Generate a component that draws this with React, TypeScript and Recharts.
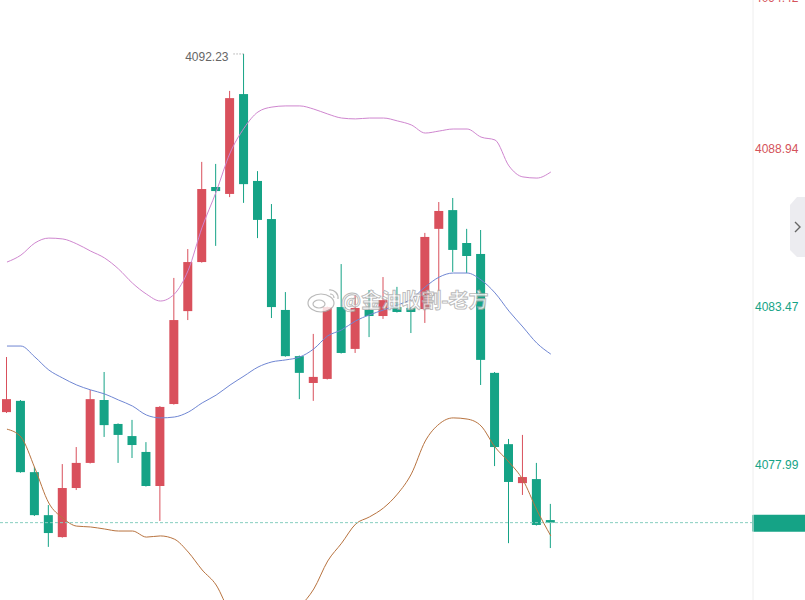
import React from 'react';
import { ComposedChart, Bar, Line, XAxis, YAxis, ReferenceLine } from 'recharts';

// OHLC per candle
const opens = [4079.82, 4080.21, 4077.74, 4076.25, 4075.49, 4077.19, 4078.06, 4080.24, 4079.41, 4078.99, 4078.44, 4077.26, 4080.10, 4083.32, 4085.02, 4087.62, 4087.38, 4090.84, 4087.83, 4086.51, 4083.36, 4081.76, 4080.83, 4080.97, 4083.46, 4082.01, 4083.36, 4083.15, 4083.46, 4083.43, 4083.39, 4086.17, 4086.82, 4085.68, 4085.30, 4081.18, 4078.71, 4077.36, 4077.50, 4076.08];
const highs = [4081.73, 4080.24, 4077.92, 4076.60, 4078.02, 4078.61, 4080.59, 4081.21, 4079.43, 4079.55, 4078.78, 4080.03, 4084.47, 4085.47, 4088.49, 4088.42, 4090.95, 4092.23, 4088.17, 4087.03, 4083.98, 4081.78, 4082.53, 4083.48, 4084.95, 4083.88, 4084.05, 4084.50, 4084.16, 4083.45, 4086.03, 4087.10, 4087.24, 4086.17, 4086.13, 4081.21, 4078.89, 4079.03, 4078.06, 4076.64];
const lows = [4079.79, 4077.72, 4076.22, 4075.15, 4075.47, 4077.12, 4078.04, 4078.96, 4078.06, 4078.23, 4077.24, 4076.05, 4080.08, 4083.01, 4085.00, 4085.58, 4087.27, 4087.07, 4085.85, 4083.08, 4081.74, 4080.27, 4080.21, 4080.95, 4081.85, 4081.87, 4082.42, 4083.05, 4083.27, 4082.56, 4082.91, 4084.02, 4084.68, 4084.64, 4080.76, 4077.95, 4075.28, 4076.95, 4075.89, 4075.11];
const closes = [4080.27, 4077.74, 4076.25, 4075.63, 4077.19, 4078.06, 4080.27, 4079.37, 4079.03, 4078.68, 4077.26, 4080.00, 4083.01, 4085.02, 4087.55, 4087.48, 4090.70, 4087.72, 4086.48, 4083.46, 4081.76, 4081.18, 4081.04, 4083.46, 4081.87, 4083.43, 4083.15, 4083.70, 4083.29, 4083.29, 4085.89, 4086.79, 4085.44, 4085.23, 4081.63, 4078.61, 4077.40, 4077.57, 4075.91, 4075.99];

// Bollinger bands
const upperBand = [4085.02, 4085.26, 4085.68, 4085.85, 4085.82, 4085.65, 4085.40, 4085.16, 4084.78, 4084.29, 4083.91, 4083.67, 4083.91, 4084.74, 4086.23, 4087.45, 4088.80, 4089.66, 4090.22, 4090.39, 4090.43, 4090.43, 4090.32, 4090.15, 4090.01, 4089.98, 4090.01, 4090.01, 4089.91, 4089.77, 4089.49, 4089.56, 4089.63, 4089.63, 4089.35, 4089.25, 4088.35, 4087.97, 4087.93, 4088.14];
const midBand = [4082.11, 4082.11, 4081.73, 4081.28, 4081.00, 4080.76, 4080.59, 4080.45, 4080.24, 4080.03, 4079.72, 4079.62, 4079.65, 4079.82, 4080.14, 4080.41, 4080.76, 4081.07, 4081.38, 4081.56, 4081.63, 4081.73, 4082.01, 4082.46, 4082.67, 4082.98, 4083.19, 4083.36, 4083.53, 4083.74, 4084.16, 4084.50, 4084.64, 4084.64, 4084.40, 4083.95, 4083.32, 4082.77, 4082.21, 4081.83];
const lowerBand = [4079.23, 4078.96, 4077.88, 4076.67, 4076.15, 4075.87, 4075.84, 4075.77, 4075.70, 4075.70, 4075.49, 4075.53, 4075.42, 4074.97, 4074.35, 4073.83, 4072.89, 4072.48, 4072.55, 4072.72, 4072.82, 4073.10, 4073.69, 4074.66, 4075.28, 4075.94, 4076.19, 4076.50, 4076.98, 4077.68, 4078.82, 4079.41, 4079.62, 4079.58, 4079.34, 4078.61, 4078.09, 4077.47, 4076.43, 4075.53];

const priceTicks = [4094.42, 4088.94, 4083.47, 4077.99];
const lastPrice = 4075.99;
const refPrice = 4086.2;
const SLOTS = 54; // candles + empty space on the right

const UP = '#d9505c';
const DOWN = '#15a386';
const FONT = '"Liberation Sans", Arial, sans-serif';

const data = Array.from({ length: SLOTS }, (_, i) =>
  i < opens.length
    ? {
        i,
        open: opens[i],
        high: highs[i],
        low: lows[i],
        close: closes[i],
        upper: upperBand[i],
        mid: midBand[i],
        lower: lowerBand[i],
      }
    : { i }
);

const maxHigh = Math.max(...highs);

const Candle = (props: any) => {
  const { x, y, width, height, payload } = props;
  if (!payload || payload.open == null) return null;
  const { open, high, low, close } = payload;
  const top = Math.min(y, y + height);
  const h = Math.abs(height);
  const k = h / (high - low);
  const py = (v: number) => top + (high - v) * k;
  const color = close >= open ? UP : DOWN;
  const bodyTop = py(Math.max(open, close));
  const bodyH = Math.max(1, Math.abs(py(open) - py(close)));
  const cx = x + width / 2;
  return (
    <g>
      <line x1={cx} x2={cx} y1={top} y2={top + h} stroke={color} strokeWidth={1} />
      <rect x={x} y={bodyTop} width={width} height={bodyH} fill={color} />
      {high === maxHigh && (
        <g>
          <line x1={cx - 10} x2={cx} y1={top} y2={top} stroke="#888" strokeDasharray="1 2" />
          <text x={cx - 15} y={top + 7} textAnchor="end" fontSize={12} fill="#666" fontFamily={FONT}>
            {high.toFixed(2)}
          </text>
        </g>
      )}
    </g>
  );
};

const PriceTick = (props: any) => {
  const { x, y, payload } = props;
  const ty = Math.max(y, -2);
  const color = payload.value > refPrice ? '#d4525a' : DOWN;
  return (
    <text x={x} y={ty} dy={4} textAnchor="start" fontSize={12} fill={color} fontFamily={FONT}>
      {Number(payload.value).toFixed(2)}
    </text>
  );
};

const PriceTag = (props: any) => {
  const vb = props.viewBox || {};
  return (
    <rect x={vb.x + vb.width - 1} y={vb.y - 8} width={54} height={17} fill={DOWN} rx={1} />
  );
};

export default function App() {
  return (
    <div style={{ position: 'absolute', left: 0, top: 0, width: 805, height: 600, background: '#fff' }}>
      <ComposedChart width={805} height={600} data={data} margin={{ top: 0, right: 0, bottom: 0, left: 0 }}>
        <XAxis dataKey="i" type="category" hide />
        <YAxis
          orientation="right"
          width={52}
          domain={[4073.31, 4094.1]}
          allowDataOverflow
          ticks={priceTicks}
          interval={0}
          tickLine={false}
          tickSize={0}
          tickMargin={2}
          axisLine={{ stroke: '#eeeeee' }}
          tick={<PriceTick />}
        />
        <Line type="monotone" dataKey="upper" stroke="#cf86cf" strokeWidth={1} dot={false} activeDot={false} legendType="none" isAnimationActive={false} />
        <Line type="monotone" dataKey="mid" stroke="#6f86d3" strokeWidth={1} dot={false} activeDot={false} legendType="none" isAnimationActive={false} />
        <Line type="monotone" dataKey="lower" stroke="#b8733f" strokeWidth={1} dot={false} activeDot={false} legendType="none" isAnimationActive={false} />
        <Bar
          dataKey={(d: any) => (d.open == null ? null : [d.low, d.high])}
          barSize={9}
          shape={<Candle />}
          isAnimationActive={false}
        />
        <ReferenceLine y={lastPrice} stroke="#86cfbf" strokeDasharray="3 2" label={<PriceTag />} />
      </ComposedChart>
      <svg width={805} height={600} style={{ position: 'absolute', left: 0, top: 0, pointerEvents: 'none' }}>
        <g opacity={0.8}>
          <ellipse cx={321} cy={303} rx={13} ry={9} fill="#fff" stroke="#aaa" strokeWidth={1.2} />
          <ellipse cx={319} cy={304} rx={6} ry={4} fill="none" stroke="#aaa" strokeWidth={1.2} />
          <path d="M329 290 A8 8 0 0 1 338 299" fill="none" stroke="#aaa" strokeWidth={1.2} />
          <path d="M330 294 A4 4 0 0 1 334 298" fill="none" stroke="#aaa" strokeWidth={1.2} />
          <text
            x={341}
            y={308}
            fontSize={20}
            fontWeight={700}
            fontFamily='"Noto Sans CJK SC", sans-serif'
            fill="#ffffff"
            stroke="#a8a8a8"
            strokeWidth={0.9}
          >
            @金油收割-老方
          </text>
        </g>
        <path d="M805 197 L797 197 L790 205 L790 250 L797 257 L805 257 Z" fill="#ececf0" />
        <path d="M795 222 L800 227 L795 232" fill="none" stroke="#666" strokeWidth={1.4} />
      </svg>
    </div>
  );
}
